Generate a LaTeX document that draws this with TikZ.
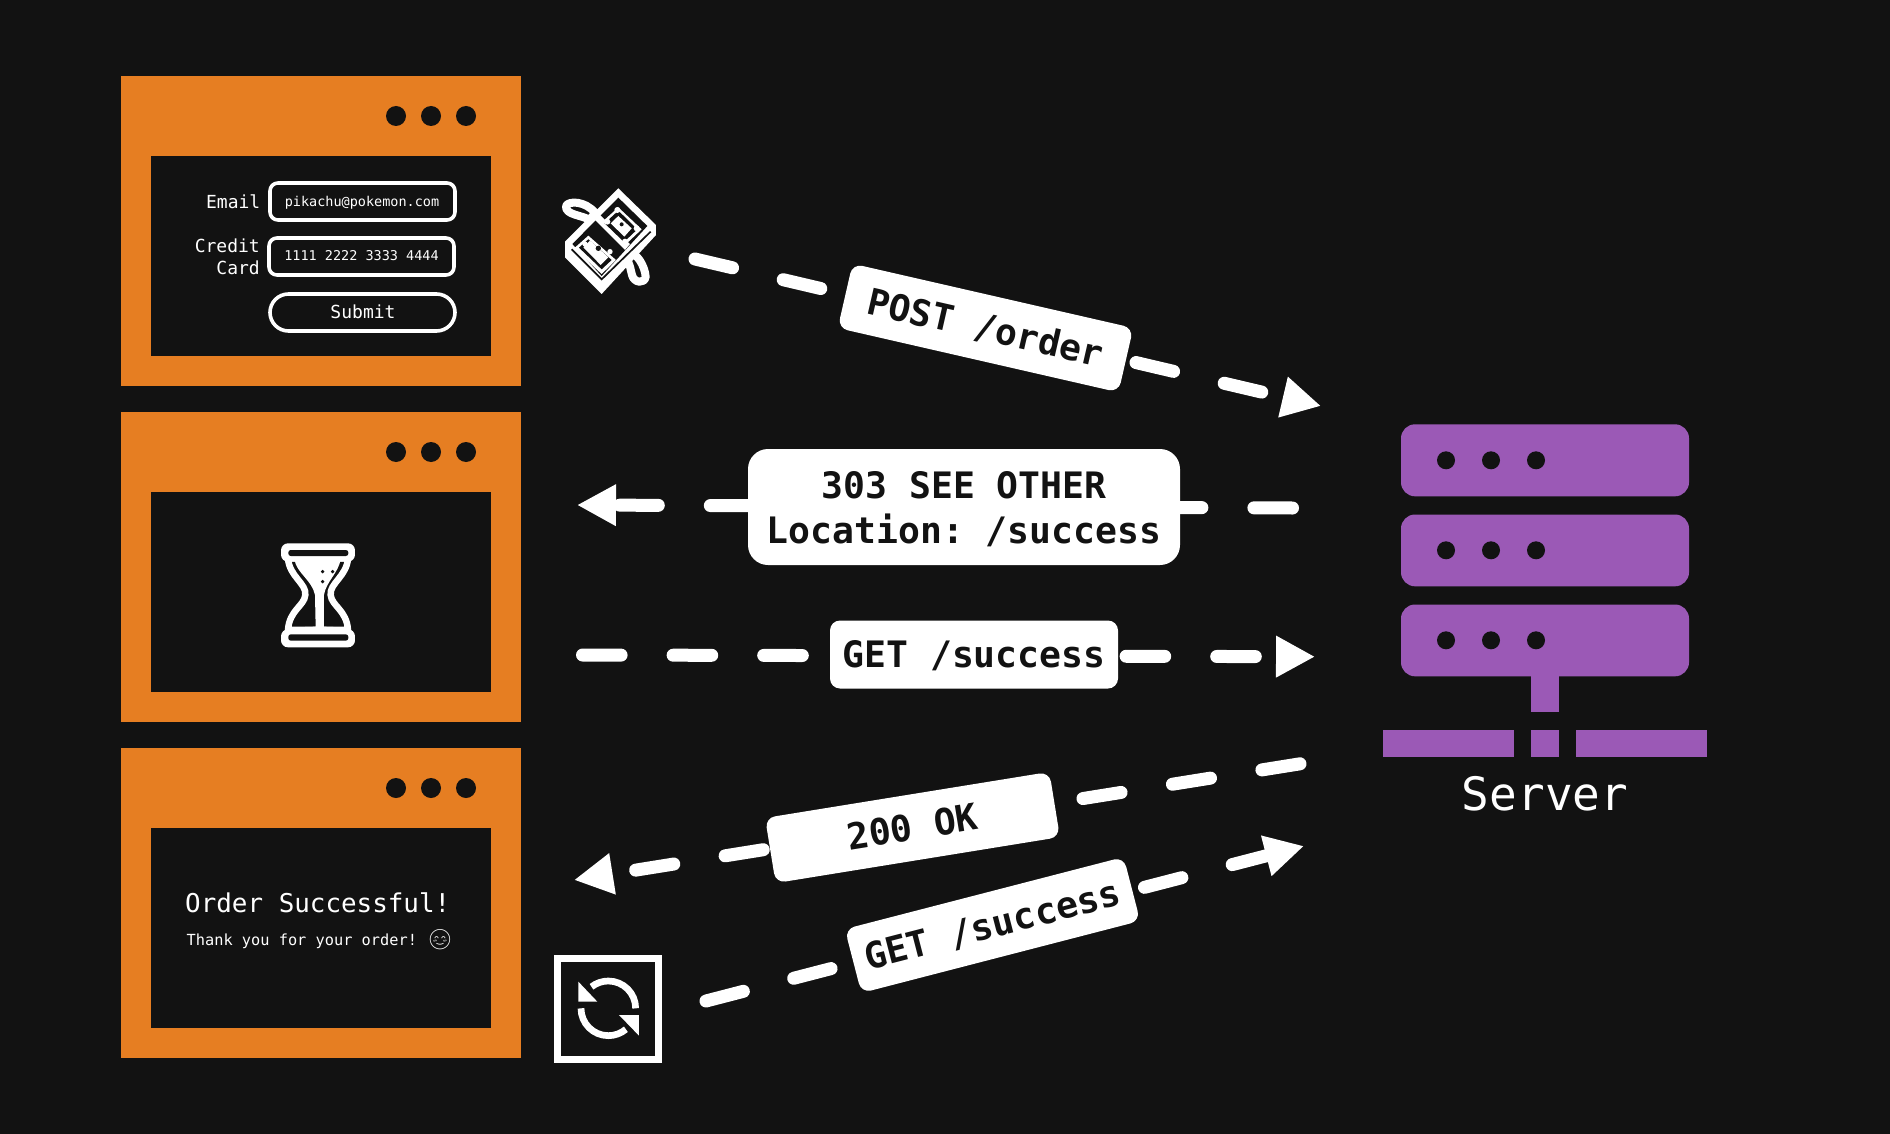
\documentclass[tikz,border=0pt]{standalone}
\usepackage{fontspec}
\usetikzlibrary{arrows.meta}
\setmonofont{DejaVu Sans Mono}
\newfontfamily\emojifont{Noto Emoji}
\definecolor{bgc}{HTML}{121212}
\definecolor{orangec}{HTML}{E67E22}
\definecolor{purplec}{HTML}{9B59B6}
\newcommand{\fs}[2]{\fontsize{#1pt}{#2pt}\selectfont}
\tikzset{
  win/.style={fill=orangec,draw=none},
  pane/.style={fill=bgc,draw=none},
  dot/.style={circle,fill=bgc,draw=none,minimum size=20pt,inner sep=0pt},
  sdot/.style={circle,fill=bgc,draw=none,minimum size=18pt,inner sep=0pt},
  field/.style={draw=white,line width=3.6pt,fill=bgc,rounded corners=8pt},
  txt/.style={text=white,inner sep=0pt,font=\ttfamily},
  flow/.style={draw=white,line width=13pt,line cap=round,dash pattern=on 38.6pt off 52pt,
    -{Triangle[length=39pt,width=39pt,fill=white]}},
  lab/.style={fill=white,text=bgc,inner sep=0pt,rounded corners=10pt,minimum width=288pt,
    minimum height=66pt,text height=32pt,text depth=7pt,font=\ttfamily\bfseries\fs{36.4}{45.5}},
  rack/.style={fill=purplec,draw=none,rounded corners=14pt},
  bar/.style={fill=purplec,draw=none},
}
\begin{document}
\begin{tikzpicture}[x=1pt,y=-1pt]
\useasboundingbox (0,0) rectangle (1890,1134);
\fill[bgc] (0,0) rectangle (1890,1134);

% browser windows
\foreach \dy/\nm in {0/a,336/b,672/c}{
  \begin{scope}[yshift=-\dy pt]
    \path[win] (121,76) rectangle (521,386);
    \path[pane] (151,156) rectangle (491,356);
    \node[dot] (dot1\nm) at (396,116) {};
    \node[dot] (dot2\nm) at (431,116) {};
    \node[dot] (dot3\nm) at (466,116) {};
  \end{scope}
}

% form
\path[field] (270,183) rectangle (455,220);
\path[field] (269,238) rectangle (454,275);
\path[field,rounded corners=18.5pt] (270,294) rectangle (455,331);
\node[txt,anchor=base east,font=\ttfamily\fs{18}{22}] (email) at (260.5,209) {Email};
\node[txt,anchor=east,align=right,font=\ttfamily\fs{18}{22.3}] (credit) at (260,257) {Credit\\Card};
\node[txt,anchor=base,font=\ttfamily\fs{13.5}{16}] (mail) at (362,206.5) {pikachu@pokemon.com};
\node[txt,anchor=base,font=\ttfamily\fs{13.5}{16}] (card) at (361.5,261) {1111 2222 3333 4444};
\node[txt,anchor=base,font=\ttfamily\fs{18}{22}] (submit) at (363,318.5) {Submit};

% hourglass
\begin{scope}[shift={(250,520)},x=0.3333pt,y=-0.3333pt]
  \draw[white,line width=6.5pt,fill=bgc]
    (114,115) .. controls (118,170) and (170,190) .. (166,225)
    .. controls (163,258) and (118,270) .. (114,330) -- (294,330)
    .. controls (290,270) and (245,258) .. (242,225)
    .. controls (238,190) and (290,170) .. (294,115) -- cycle;
  \fill[white] (133,118) .. controls (140,160) and (186,180) .. (195,225)
    -- (197,320) -- (135,322) -- (135,332) -- (277,332) -- (277,322) -- (222,320) -- (222,225)
    .. controls (228,185) and (265,160) .. (272,118) -- cycle;
  \fill[bgc] (218,155) circle (5.5);
  \fill[bgc] (248,155) circle (5.5);
  \fill[bgc] (218,185) circle (5.5);
  \fill[white,rounded corners=7pt] (93,70) rectangle (315,125);
  \fill[bgc,rounded corners=2.5pt] (115,90) rectangle (295,108);
  \fill[white,rounded corners=7pt] (93,328) rectangle (315,382);
  \fill[bgc,rounded corners=2.5pt] (115,343) rectangle (295,362);
\end{scope}

% success text
\node[txt,anchor=base west,font=\ttfamily\fs{25.9}{30}] (okt) at (185,912.7) {Order Successful!};
\node[txt,anchor=base west,font=\ttfamily\fs{15.3}{18}] (thx) at (186.5,945) {Thank you for your order!};
\node[txt,font=\emojifont\fs{20}{22}] (emo) at (440,940) {😊};

% money icon
\begin{scope}[shift={(530,170)},x=0.3333pt,y=-0.3333pt]
  \draw[white,line width=8pt,fill=bgc,line join=round]
    (108,108) .. controls (115,92) and (165,92) .. (195,128) -- (180,150)
    .. controls (155,135) and (105,135) .. (108,108) -- cycle;
  \draw[white,line width=8pt,fill=bgc,line join=round]
    (298,252) .. controls (320,245) and (345,290) .. (347,320)
    .. controls (345,342) and (312,340) .. (306,315) -- (300,290) -- (292,268) -- cycle;
  \fill[white] (265,55) -- (378,165) -- (378,195) -- (215,372) -- (105,262) -- (105,215) -- cycle;
  \fill[bgc] (265,83) -- (352,168) -- (215,318) -- (127,222) -- cycle;
  \draw[bgc,line width=1.7pt] (125,238) -- (215,328) -- (362,185);
  \fill[white] (190,145) -- (210,135) -- (300,222) -- (285,240) -- cycle;
  \fill[white] (265,112) -- (335,178) -- (282,228) -- (212,160) -- cycle;
  \fill[bgc] (265,122) -- (322,178) -- (282,216) -- (224,160) -- cycle;
  \fill[white] (262,120) circle (9) (320,175) circle (9) (232,155) circle (9) (285,215) circle (9);
  \fill[white] (265,138) -- (305,175) -- (283,200) -- (242,160) -- cycle;
  \fill[bgc] (275,163) circle (6);
  \fill[white] (155,215) -- (175,197) -- (258,270) -- (215,312) -- (132,235) -- cycle;
  \fill[bgc] (175,208) -- (245,270) -- (215,298) -- (147,233) -- cycle;
  \fill[white] (165,222) circle (8) (240,245) circle (8) (215,270) circle (8);
  \fill[white] (180,212) -- (235,262) -- (212,285) -- (160,232) -- cycle;
  \fill[bgc] (205,235) circle (8);
\end{scope}

% refresh icon
\draw[white,line width=7pt] (557.8,958.5) rectangle (658.8,1059.2);
\begin{scope}[shift={(540,940)},x=0.3333pt,y=-0.3333pt]
  \draw[white,line width=6.7pt] (287,205) arc[start angle=0,end angle=-128,radius=82];
  \fill[white] (115,125) -- (115,185) -- (172,185) -- cycle;
  \draw[white,line width=6.7pt] (123,205) arc[start angle=180,end angle=50,radius=82];
  \fill[white] (297,225) -- (237,225) -- (297,287) -- cycle;
\end{scope}

% server
\path[rack] (1401,424.3) rectangle (1689,496.3);
\path[rack] (1401,514.5) rectangle (1689,586.3);
\path[rack] (1401,604.5) rectangle (1689,676.3);
\foreach \yy/\nm in {460.3/a,550.3/b,640.3/c}{
  \node[sdot] (sd1\nm) at (1446,\yy) {};
  \node[sdot] (sd2\nm) at (1491,\yy) {};
  \node[sdot] (sd3\nm) at (1536,\yy) {};
}
\path[bar] (1531.3,676) rectangle (1558.7,712.3);
\path[bar] (1383,730.3) rectangle (1513.7,757.3);
\path[bar] (1531.3,730.3) rectangle (1558.7,757.3);
\path[bar] (1576.3,730.3) rectangle (1707,757.3);
\node[txt,anchor=base,font=\ttfamily\fs{46}{50}] (server) at (1545,810) {Server};

% connectors
\coordinate (p1) at (695,259);    \coordinate (p2) at (1321,406);
\coordinate (s1) at (1292.5,508); \coordinate (s2) at (577,505);
\coordinate (g1) at (582.5,655);  \coordinate (g2) at (1315,656.7);
\coordinate (o1) at (1300,763.8); \coordinate (o2) at (574,880);
\coordinate (r1) at (706,1001);   \coordinate (r2) at (1304,846);
\draw[flow] (p1) -- (p2);
\draw[flow] (s1) -- (s2);
\draw[flow] (g1) -- (g2);
\draw[flow] (o1) -- (o2);
\draw[flow] (r1) -- (r2);

% labels
\node[lab,rotate=-12.9] (lpost) at (985.5,328) {POST /order};
\node[lab,minimum width=432pt,minimum height=116pt,rounded corners=20pt,text height=,text depth=,align=center] (lsee) at (964,507) {\rule{0pt}{31.6pt}303 SEE OTHER\\Location: /success};
\node[lab,minimum height=68pt] (lget) at (974,654.5) {GET /success};
\node[lab,rotate=9.2] (lok) at (912.5,827.5) {200 OK};
\node[lab,rotate=14.5] (lret) at (992.5,925) {GET /success};
\end{tikzpicture}
\end{document}
